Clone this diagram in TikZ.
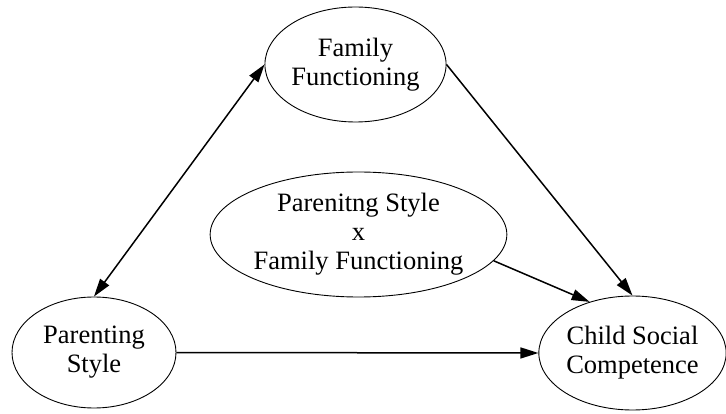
\documentclass[tikz,border=0pt]{standalone}
\usepackage{fontspec}
\setmainfont{Liberation Serif}
\usetikzlibrary{shapes.geometric,arrows.meta}
\begin{document}
\begin{tikzpicture}[x=1pt,y=-1pt,
  construct/.style={ellipse,draw,line width=0.9pt,inner sep=0pt,align=center,
    font=\fontsize{26.5}{29}\selectfont},
  path/.style={line width=1.5pt,-{Triangle[length=18pt,width=11pt]}},
  bipath/.style={line width=1.5pt,{Triangle[length=18pt,width=11pt]}-{Triangle[length=18pt,width=11pt]}}]
  \useasboundingbox (0,0) rectangle (726,414);
  % latent constructs
  \node[construct,minimum width=175pt,minimum height=115pt] (ff) at (355.5,64.5) {Family\\Functioning};
  \node[construct,minimum width=164pt,minimum height=111pt] (ps) at (94,352.5) {Parenting\\Style};
  \node[construct,minimum width=185pt,minimum height=114pt] (cs) at (632.5,353) {Child Social\\Competence};
  \node[construct,minimum width=293pt,minimum height=125pt] (int) at (358.5,234.5) {Parenitng Style\\x\\Family Functioning};
  % paths
  \draw[bipath] (ps.north) -- (ff.west);
  \draw[path] (ff.east) -- (cs.north);
  \draw[path] (int.-11) -- (cs.130);
  \draw[path] (ps.east) -- (cs.west);
\end{tikzpicture}
\end{document}
